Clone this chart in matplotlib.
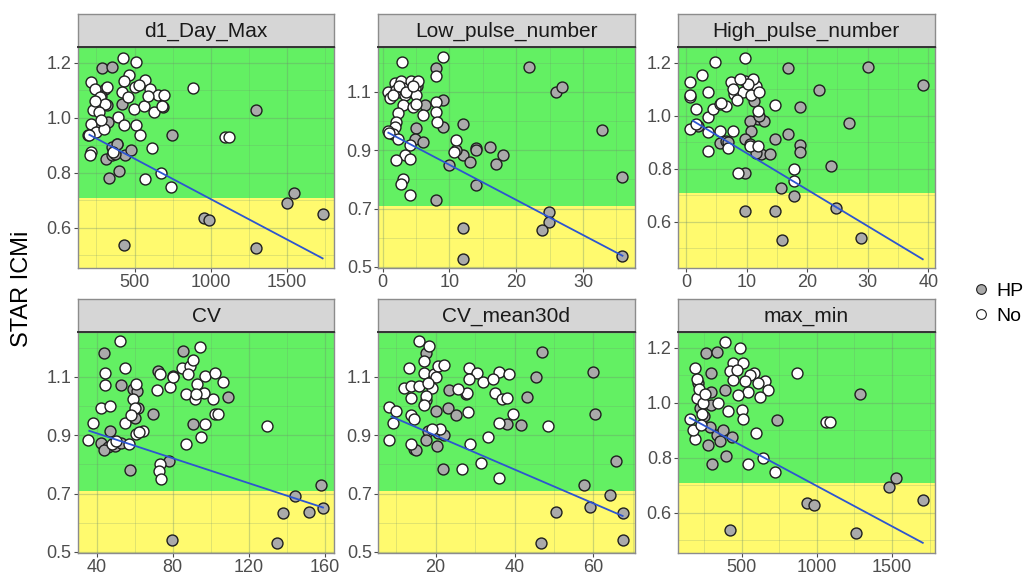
from __future__ import annotations

import matplotlib

matplotlib.use("Agg")
import matplotlib.pyplot as plt
from matplotlib.lines import Line2D
from matplotlib.ticker import AutoMinorLocator, FixedLocator

plt.rcParams["font.family"] = ["Liberation Sans", "DejaVu Sans"]

# d1_Day_Max
d1_hp_x = [288, 349, 305, 415, 327, 261, 196, 388, 316, 436, 480, 349, 397, 331, 747, 690,
           1299, 1503, 1549, 1735, 953, 990, 1299, 432, 322, 261, 283, 372, 351, 384]
d1_hp_y = [1.179, 1.184, 1.106, 1.051, 0.984, 0.972, 0.938, 0.905, 0.850, 0.863, 0.881, 0.863,
           0.808, 0.780, 0.938, 1.04, 1.029, 0.69, 0.725, 0.65, 0.635, 0.629, 0.527, 0.537,
           1.045, 1.051, 1.08, 0.87, 0.893, 0.905]
d1_no_x = [426, 507, 463, 217, 239, 432, 502, 568, 601, 655, 695, 415, 458, 498, 564, 629, 682,
           885, 228, 217, 393, 432, 513, 535, 616, 677, 568, 739, 213, 207, 360, 1093, 1120, 272,
           305, 250, 204, 240, 270, 300, 280, 320, 530, 590]
d1_no_y = [1.218, 1.201, 1.155, 1.130, 1.106, 1.133, 1.112, 1.136, 1.106, 1.082, 1.082, 1.094,
           1.075, 1.033, 1.041, 1.021, 1.043, 1.108, 1.027, 0.978, 1.002, 0.972, 0.972, 0.938,
           0.891, 0.798, 0.777, 0.747, 0.875, 0.863, 0.875, 0.929, 0.929, 1.075, 1.051, 0.948,
           0.938, 1.06, 1.02, 0.96, 0.99, 1.11, 1.12, 1.08]
d1_fit_x = [204, 1735]
d1_fit_y = [0.938, 0.489]

# Low_pulse_number
low_hp_x = [8.0, 21.9, 6.27, 9.0, 5.02, 4.78, 6.02, 9.0, 12.0, 12.0, 13.0, 14.0, 16.0, 17.96,
            17.0, 10.0, 14.0, 8.0, 25.97, 26.9, 32.9, 35.9, 35.9, 24.97, 24.97, 23.9, 12.04,
            12.04, 14.0, 11.0, 2.5, 5.2]
low_hp_y = [1.182, 1.184, 1.055, 1.072, 0.975, 0.94, 0.929, 0.98, 0.991, 0.883, 0.86, 0.906,
            0.911, 0.883, 0.854, 0.848, 0.779, 0.728, 1.098, 1.116, 0.969, 0.808, 0.538, 0.687,
            0.653, 0.626, 0.633, 0.526, 0.9, 0.90, 1.1, 1.12]
low_no_x = [0.8, 1.04, 1.79, 2.04, 2.79, 3.03, 3.28, 4.28, 4.78, 5.02, 5.27, 3.03, 2.29, 2.04,
            1.79, 1.54, 0.8, 2.29, 4.03, 3.28, 2.04, 4.03, 3.03, 2.79, 4.03, 6.02, 4.53, 8.0, 8.0,
            8.16, 11.0, 10.75, 2.84, 8.96, 8.0, 1.5, 2.5, 3.5, 4.5, 5.0, 1.0]
low_no_y = [1.101, 1.078, 1.13, 1.107, 1.136, 1.113, 1.09, 1.136, 1.113, 1.09, 1.136, 1.055,
            1.026, 0.998, 0.98, 0.957, 0.966, 0.94, 0.917, 0.883, 0.866, 0.869, 0.802, 0.785,
            0.748, 1.021, 1.049, 1.067, 1.032, 0.998, 0.934, 0.894, 1.201, 1.22, 1.156, 1.09,
            1.12, 1.1, 1.12, 1.06, 0.96]
low_fit_x = [0.85, 35.9]
low_fit_y = [0.96, 0.538]

# High_pulse_number
high_hp_x = [16.8, 22.0, 18.9, 11.3, 11.87, 12.86, 10.5, 10.77, 9.67, 14.78, 16.8, 10.5, 12.42,
             13.8, 11.6, 18.9, 18.9, 9.67, 5.55, 6.65, 15.7, 17.8, 24.0, 9.67, 14.78, 24.8,
             30.05, 39.1, 27.0, 15.9, 28.96, 12.0, 11.0, 8.5, 7.0, 2.0]
high_hp_y = [1.18, 1.099, 1.032, 1.057, 0.987, 0.981, 0.981, 0.943, 0.911, 0.911, 0.93, 0.892,
             0.854, 0.854, 0.858, 0.889, 0.863, 0.785, 0.899, 0.905, 0.728, 0.696, 0.81, 0.639,
             0.639, 0.652, 1.184, 1.116, 0.971, 0.53, 0.54, 1.0, 1.1, 1.08, 0.9, 0.96]
high_no_x = [4.73, 9.67, 0.6, 2.64, 3.63, 0.6, 1.7, 3.63, 0.6, 1.7, 3.63, 3.63, 5.55, 7.75, 6.92,
             4.45, 5.55, 6.65, 7.47, 8.0, 9.67, 10.5, 11.6, 11.0, 9.4, 7.75, 11.87, 14.78, 8.57,
             17.8, 17.8, 10.5, 11.87, 5.8, 0.6, 10.2, 10.8, 9.0, 12.0, 8.5]
high_no_y = [1.203, 1.219, 1.129, 1.154, 1.091, 1.07, 1.025, 0.994, 0.949, 0.968, 0.937, 0.867,
             0.943, 0.943, 0.88, 1.025, 1.044, 1.038, 1.127, 1.082, 1.133, 1.101, 1.114, 1.139,
             1.089, 1.101, 1.019, 1.041, 0.785, 0.80, 0.753, 0.886, 0.886, 1.05, 1.08, 1.12,
             1.08, 1.14, 1.09, 1.06]
high_fit_x = [1.15, 39.1]
high_fit_y = [0.981, 0.458]

# CV
cv_hp_x = [43.9, 53.0, 59.1, 61.8, 59.1, 69.6, 46.8, 42.5, 46.0, 49.5, 53.0, 57.4, 72.3, 80.2,
           85.4, 90.7, 108.8, 77.9, 79.8, 134.7, 138.2, 151.4, 157.9, 159.0, 144.4, 44, 61, 60]
cv_hp_y = [1.183, 1.073, 1.058, 0.995, 0.974, 0.974, 0.915, 0.875, 0.858, 0.863, 0.875, 0.781,
           1.121, 1.103, 1.189, 0.938, 1.031, 0.812, 0.54, 0.532, 0.633, 0.638, 0.73, 0.652,
           0.692, 0.85, 1.05, 0.96]
cv_no_x = [52.1, 44.2, 44.2, 54.7, 42.5, 46.8, 38.1, 35.4, 60.9, 59.1, 60, 54.7, 60.9, 64.4, 71.9,
           78.4, 73.2, 84.6, 89.0, 94.2, 90.7, 88.1, 87.2, 92.5, 96.8, 102.1, 106.5, 101.2, 96.5,
           91.6, 102.1, 103.9, 87.2, 95.1, 96.8, 73.2, 72.6, 73.7, 129.5, 58, 62, 48, 50, 57,
           80, 92]
cv_no_y = [1.223, 1.115, 1.073, 1.13, 0.995, 1.0, 0.941, 0.883, 1.075, 1.023, 0.995, 0.943,
           0.903, 0.913, 1.054, 1.066, 1.109, 1.132, 1.138, 1.204, 1.158, 1.109, 1.041, 1.075,
           1.103, 1.115, 1.084, 1.023, 1.046, 1.023, 0.974, 0.974, 0.871, 0.894, 0.938, 0.8,
           0.778, 0.749, 0.932, 0.97, 0.91, 0.87, 0.88, 0.87, 1.1, 1.04]
cv_fit_x = [36.1, 159.0]
cv_fit_y = [0.915, 0.652]

# CV_mean30d
cvm_hp_x = [17.6, 23.5, 27.7, 20.1, 23.2, 25.1, 18.0, 20.5, 17.6, 20.3, 14.4, 21.8, 38.2, 41.6,
            43.1, 45.4, 46.9, 60, 60.5, 65.6, 57.7, 64.1, 59.2, 67.4, 67.4, 50.5, 46.6, 15, 22,
            17.5]
cvm_hp_y = [1.183, 1.054, 1.043, 0.983, 0.995, 0.97, 0.915, 0.909, 0.883, 0.863, 0.852, 0.783,
            0.94, 0.935, 1.031, 1.1, 1.187, 1.117, 0.972, 0.81, 0.73, 0.695, 0.655, 0.633,
            0.541, 0.637, 0.532, 0.85, 0.9, 1.02]
cvm_no_x = [15.9, 18.4, 17.1, 13.3, 17.1, 19.7, 20.5, 22.2, 11.9, 13.8, 15.9, 19.2, 13.8, 17.6,
            17.1, 8.3, 10.0, 9.1, 13.8, 14.6, 8.3, 13.8, 28.5, 30.6, 28.5, 32.0, 28.1, 36.1, 38.6,
            34.6, 35.0, 36.7, 38.2, 27.9, 25.6, 36.1, 39.7, 48.5, 33.3, 28.8, 31.6, 26.8, 36.1,
            20, 18, 21, 19]
cvm_no_y = [1.223, 1.206, 1.155, 1.13, 1.115, 1.109, 1.138, 1.141, 1.063, 1.069, 1.069, 1.063,
            1.027, 1.035, 1.004, 0.997, 0.983, 0.943, 0.97, 0.955, 0.883, 0.871, 1.132, 1.115,
            1.092, 1.081, 0.978, 1.118, 1.109, 1.092, 1.046, 1.023, 1.027, 1.046, 1.058, 0.943,
            0.972, 0.932, 0.894, 0.871, 0.803, 0.783, 0.753, 1.1, 1.08, 0.92, 0.92]
cvm_fit_x = [8.8, 67.4]
cvm_fit_y = [0.964, 0.623]

# max_min
mm_hp_x = [264, 339, 1285, 736, 1479, 1523, 1704, 938, 980, 1262, 423, 307, 396, 440, 389, 294,
           294, 213, 290, 334, 279, 378, 224, 250, 300, 360]
mm_hp_y = [1.182, 1.185, 1.03, 0.939, 0.692, 0.725, 0.648, 0.634, 0.628, 0.525, 0.536, 0.776,
           0.808, 0.876, 1.048, 1.107, 0.99, 1.07, 0.913, 0.882, 0.848, 0.90, 0.98, 0.95, 1.04,
           0.86]
mm_no_x = [390, 489, 445, 191, 206, 423, 511, 584, 655, 677, 622, 544, 478, 869, 1064, 1086, 157,
           191, 180, 345, 412, 500, 507, 595, 544, 644, 721, 202, 246, 445, 555, 220, 260, 240,
           610, 520, 470, 230]
mm_no_y = [1.222, 1.20, 1.145, 1.125, 1.088, 1.114, 1.143, 1.107, 1.08, 1.046, 1.022, 1.04,
           1.028, 1.109, 0.93, 0.93, 0.94, 0.87, 0.90, 1.0, 0.97, 0.973, 0.94, 0.891, 0.778,
           0.798, 0.749, 1.016, 0.998, 1.082, 1.10, 1.05, 1.03, 0.96, 1.07, 1.08, 1.12, 0.92]
mm_fit_x = [157, 1704]
mm_fit_y = [0.945, 0.491]

titles = ["d1_Day_Max", "Low_pulse_number", "High_pulse_number", "CV", "CV_mean30d", "max_min"]
x_ticks = [[500, 1000, 1500], [0, 10, 20, 30], [0, 10, 20, 30, 40],
           [40, 80, 120, 160], [20, 40, 60], [500, 1000, 1500]]
y_ticks_a = [0.6, 0.8, 1.0, 1.2]
y_ticks_b = [0.5, 0.7, 0.9, 1.1]
threshold = 0.71
group_labels = ["HP", "No"]

GREEN = "#63F063"
YELLOW = "#FFFA6E"
HP_COLOR = "#AAAAAA"
NO_COLOR = "#FFFFFF"
LINE_COLOR = "#2D55D0"
TICK_COLOR = "#4D4D4D"


def draw_panel(fig, rect, title, hp, no, fit, xlim, ylim, xt, yt) -> None:
    left, bottom, width, height = rect
    ax = fig.add_axes([left, bottom, width, height])
    ax.set_xlim(*xlim)
    ax.set_ylim(*ylim)
    ax.axhspan(threshold, ylim[1], color=GREEN, zorder=0, lw=0)
    ax.axhspan(ylim[0], threshold, color=YELLOW, zorder=0, lw=0)

    ax.xaxis.set_major_locator(FixedLocator(xt))
    ax.yaxis.set_major_locator(FixedLocator(yt))
    ax.xaxis.set_minor_locator(AutoMinorLocator(2))
    ax.yaxis.set_minor_locator(AutoMinorLocator(2))
    ax.set_yticklabels([f"{v:.1f}" for v in yt])
    ax.set_axisbelow(True)
    ax.grid(True, which="major", color="#6E8F6E", alpha=0.35, lw=0.9)
    ax.grid(True, which="minor", color="#6E8F6E", alpha=0.25, lw=0.6)
    ax.tick_params(which="major", length=3, color=TICK_COLOR, labelcolor=TICK_COLOR,
                   labelsize=13, pad=1.5)
    ax.tick_params(which="minor", length=0)

    ax.scatter(hp[0], hp[1], s=62, c=HP_COLOR, edgecolors="#1F1F1F", linewidths=1.0, zorder=3)
    ax.scatter(no[0], no[1], s=62, c=NO_COLOR, edgecolors="#1F1F1F", linewidths=1.0, zorder=3)
    ax.plot(fit[0], fit[1], color=LINE_COLOR, lw=1.3, zorder=4)

    for spine in ax.spines.values():
        spine.set_color("#8C8C8C")
        spine.set_linewidth(1.0)

    strip_h = 33 / 578
    strip = fig.add_axes([left, bottom + height, width, strip_h])
    strip.set_facecolor("#D6D6D6")
    strip.set_xticks([])
    strip.set_yticks([])
    for spine in strip.spines.values():
        spine.set_color("#8C8C8C")
        spine.set_linewidth(1.0)
    strip.spines["bottom"].set_color("#333333")
    strip.spines["bottom"].set_linewidth(1.4)
    strip.text(0.5, 0.47, title, ha="center", va="center", fontsize=15, color="#1A1A1A",
               transform=strip.transAxes)


def main() -> None:
    fig = plt.figure(figsize=(10.26, 5.78), dpi=100)
    W, H = 1026, 578
    lefts = [77.7, 378, 678]
    width = 256.5
    rows = [(268, 47), (553, 332)]

    panels = [
        ((d1_hp_x, d1_hp_y), (d1_no_x, d1_no_y), (d1_fit_x, d1_fit_y), (127, 1811), (0.454, 1.257), y_ticks_a),
        ((low_hp_x, low_hp_y), (low_no_x, low_no_y), (low_fit_x, low_fit_y), (-0.7, 37.7), (0.496, 1.254), y_ticks_b),
        ((high_hp_x, high_hp_y), (high_no_x, high_no_y), (high_fit_x, high_fit_y), (-1.32, 41.04), (0.425, 1.26), y_ticks_a),
        ((cv_hp_x, cv_hp_y), (cv_no_x, cv_no_y), (cv_fit_x, cv_fit_y), (30.0, 164.9), (0.496, 1.254), y_ticks_b),
        ((cvm_hp_x, cvm_hp_y), (cvm_no_x, cvm_no_y), (cvm_fit_x, cvm_fit_y), (5.4, 70.4), (0.496, 1.254), y_ticks_b),
        ((mm_hp_x, mm_hp_y), (mm_no_x, mm_no_y), (mm_fit_x, mm_fit_y), (78, 1782), (0.454, 1.257), y_ticks_a),
    ]

    for i, (hp, no, fit, xlim, ylim, yt) in enumerate(panels):
        row, col = divmod(i, 3)
        bottom_px, top_px = rows[row]
        rect = (lefts[col] / W, 1 - bottom_px / H, width / W, (bottom_px - top_px) / H)
        draw_panel(fig, rect, titles[i], hp, no, fit, xlim, ylim, x_ticks[i], yt)

    fig.text(0.021, 0.5, "STAR ICMi", rotation=90, ha="center", va="center", fontsize=17)

    handles = [
        Line2D([], [], marker="o", ls="", markersize=7, markerfacecolor=HP_COLOR,
               markeredgecolor="#1F1F1F", markeredgewidth=0.8),
        Line2D([], [], marker="o", ls="", markersize=7, markerfacecolor=NO_COLOR,
               markeredgecolor="#1F1F1F", markeredgewidth=0.8),
    ]
    fig.legend(handles, group_labels, loc="center left", bbox_to_anchor=(0.937, 0.475),
               frameon=False, fontsize=14, handletextpad=0.2, labelspacing=0.4,
               handlelength=1.2, borderaxespad=0)

    fig.savefig("out.png", dpi=100)
    plt.close(fig)


if __name__ == "__main__":
    main()
